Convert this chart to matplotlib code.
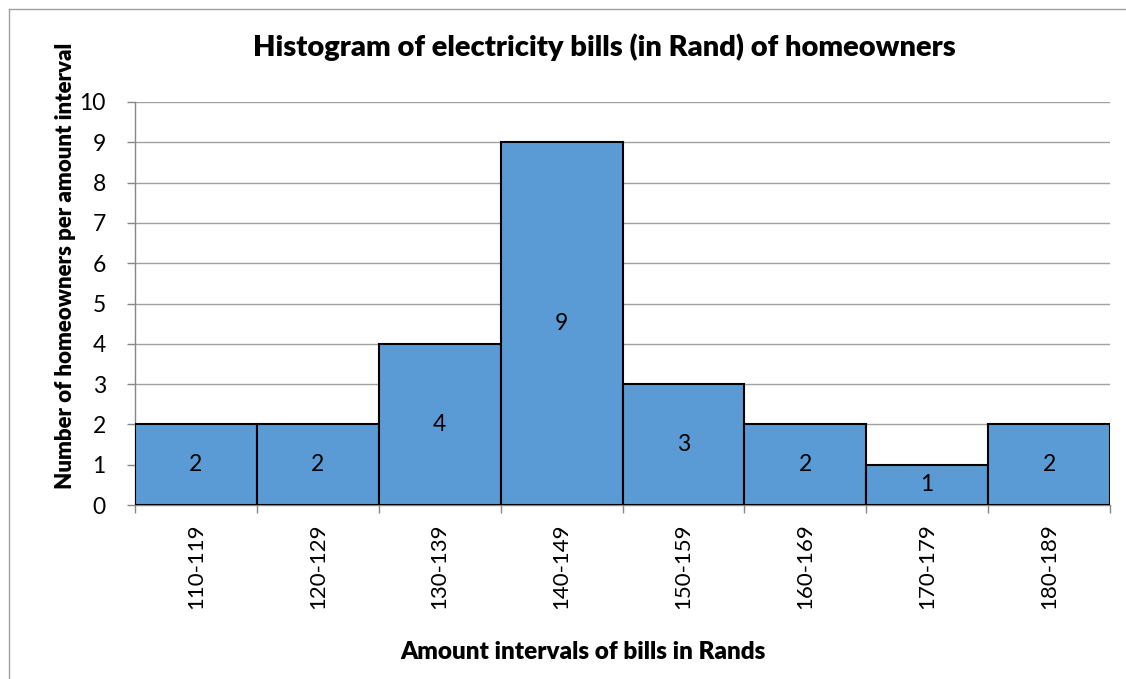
import matplotlib
matplotlib.use("Agg")
import matplotlib.pyplot as plt
from matplotlib.lines import Line2D

categories = ["110-119", "120-129", "130-139", "140-149", "150-159", "160-169", "170-179", "180-189"]
counts = [2, 2, 4, 9, 3, 2, 1, 2]
yticks = list(range(0, 11))

title = "Histogram of electricity bills (in Rand) of homeowners"
xlabel = "Amount intervals of bills in Rands"
ylabel = "Number of homeowners per amount interval"

W, H = 1126, 679
FONT = "Lato"
fig = plt.figure(figsize=(W / 100, H / 100), dpi=100)
ax = fig.add_axes([135 / W, 1 - 505 / H, (1110 - 135) / W, (505 - 102) / H])

x = list(range(len(categories)))
ax.bar(x, counts, width=1.0, color="#5B9BD5", edgecolor="black", linewidth=1.5, zorder=3)
for xi, c in zip(x, counts):
    ax.text(xi, c / 2, str(c), ha="center", va="center", fontsize=16.5, family=FONT, zorder=4)

ax.set_xlim(-0.5, len(categories) - 0.5)
ax.set_ylim(0, 10)
ax.set_yticks(yticks)
ax.set_yticklabels([str(v) for v in yticks], fontsize=16.5, family=FONT)
ax.yaxis.grid(True, color="#A0A0A0", linewidth=1.0, zorder=0)
ax.set_axisbelow(True)

ax.set_xticks([i - 0.5 for i in range(len(categories) + 1)], minor=False)
ax.set_xticklabels([])
ax.set_xticks(x, minor=True)
ax.set_xticklabels(categories, minor=True, rotation=90, fontsize=16, family=FONT)
ax.tick_params(axis="x", which="minor", length=0, pad=13)
ax.tick_params(axis="x", which="major", length=6, color="#868686", width=1)
ax.tick_params(axis="y", length=6, color="#868686", width=1, pad=15)

for s in ["top", "right"]:
    ax.spines[s].set_visible(False)
for s in ["left", "bottom"]:
    ax.spines[s].set_color("#868686")
    ax.spines[s].set_linewidth(1.0)

fig.text(604 / W, 1 - 47 / H, title, ha="center", va="center", fontsize=21, fontweight=800, family=FONT)
fig.text(583 / W, 1 - 652 / H, xlabel, ha="center", va="center", fontsize=17.5, fontweight=800, family=FONT)
fig.text(66 / W, 1 - 266 / H, ylabel, ha="center", va="center", rotation=90, fontsize=16, fontweight=800, family=FONT)

# chart frame
fig.add_artist(Line2D([9 / W, 1], [1 - 9 / H, 1 - 9 / H], transform=fig.transFigure, color="#A0A0A0", linewidth=1))
fig.add_artist(Line2D([9 / W, 9 / W], [0, 1 - 9 / H], transform=fig.transFigure, color="#A0A0A0", linewidth=1))

fig.savefig("out.png", dpi=100)
